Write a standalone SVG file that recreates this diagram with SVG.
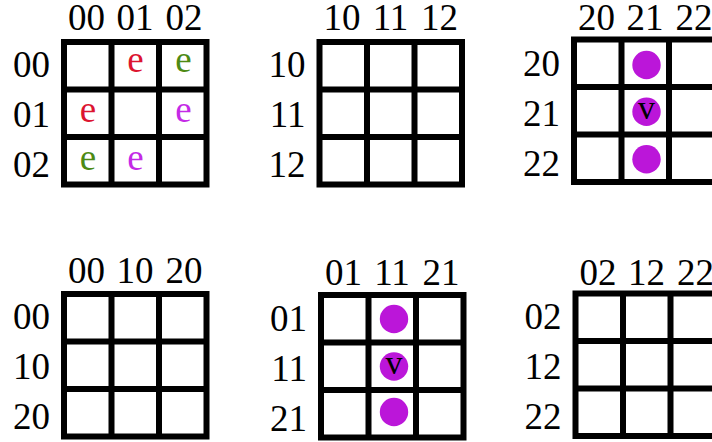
<svg xmlns="http://www.w3.org/2000/svg" width="712" height="442" viewBox="0 0 712 442">
<defs>
<style>
text{font-family:"Liberation Serif","DejaVu Serif",serif;font-size:37px;fill:#000}
.c{text-anchor:middle}
.r{text-anchor:end}
.g{fill:none;stroke:#000;stroke-width:6}
.red{fill:#dc1430}
.grn{fill:#4d8a14}
.mag{fill:#c42ae6}
.dot{fill:#bb16d9}
.v{font-size:34px;text-anchor:middle}
</style>
<g id="grid">
<rect class="g" x="0" y="0" width="142.5" height="142.5"/>
<path class="g" d="M47.5 0V142.5M95 0V142.5M0 47.5H142.5M0 95H142.5"/>
</g>
</defs>
<rect width="712" height="442" fill="#fff"/>

<g id="g1" transform="translate(64,42)">
<use href="#grid"/>
<text class="c" x="22.5" y="-12">00</text><text class="c" x="71" y="-12">01</text><text class="c" x="120" y="-12">02</text>
<text class="r" x="-14" y="35">00</text><text class="r" x="-14" y="85">01</text><text class="r" x="-14" y="135">02</text>
<text class="c red" x="71.5" y="30">e</text>
<text class="c grn" x="119.5" y="30">e</text>
<text class="c red" x="24" y="80">e</text>
<text class="c mag" x="119.5" y="80">e</text>
<text class="c grn" x="24" y="128">e</text>
<text class="c mag" x="71.5" y="128">e</text>
</g>

<g id="g2" transform="translate(319.5,42)">
<use href="#grid"/>
<text class="c" x="22.5" y="-12">10</text><text class="c" x="71" y="-12">11</text><text class="c" x="120" y="-12">12</text>
<text class="r" x="-14" y="35">10</text><text class="r" x="-14" y="85">11</text><text class="r" x="-14" y="135">12</text>
</g>

<g id="g3" transform="translate(574,39.5)">
<use href="#grid"/>
<text class="c" x="22.5" y="-10">20</text><text class="c" x="71" y="-10">21</text><text class="c" x="120" y="-10">22</text>
<text class="r" x="-14" y="36">20</text><text class="r" x="-14" y="86">21</text><text class="r" x="-14" y="136">22</text>
<circle class="dot" cx="72.5" cy="25.5" r="14.2"/>
<circle class="dot" cx="72.5" cy="72.2" r="14.2"/>
<text class="v" x="72.5" y="79">v</text>
<circle class="dot" cx="72.5" cy="119.7" r="14.2"/>
</g>

<g id="g4" transform="translate(64,294)">
<use href="#grid"/>
<text class="c" x="22.5" y="-11">00</text><text class="c" x="71" y="-11">10</text><text class="c" x="120" y="-11">20</text>
<text class="r" x="-14" y="35">00</text><text class="r" x="-14" y="85">10</text><text class="r" x="-14" y="135">20</text>
</g>

<g id="g5" transform="translate(321,295)">
<use href="#grid"/>
<text class="c" x="22.5" y="-10">01</text><text class="c" x="71" y="-10">11</text><text class="c" x="120" y="-10">21</text>
<text class="r" x="-14" y="36">01</text><text class="r" x="-14" y="86">11</text><text class="r" x="-14" y="136">21</text>
<circle class="dot" cx="73" cy="24" r="14.2"/>
<circle class="dot" cx="73" cy="71.5" r="14.2"/>
<text class="v" x="73" y="78.5">v</text>
<circle class="dot" cx="73" cy="117" r="14.2"/>
</g>

<g id="g6" transform="translate(575.5,293.5)">
<use href="#grid"/>
<text class="c" x="22.5" y="-9">02</text><text class="c" x="71" y="-9">12</text><text class="c" x="120" y="-9">22</text>
<text class="r" x="-14" y="35">02</text><text class="r" x="-14" y="85">12</text><text class="r" x="-14" y="135">22</text>
</g>

<g id="connectors"/>
</svg>
